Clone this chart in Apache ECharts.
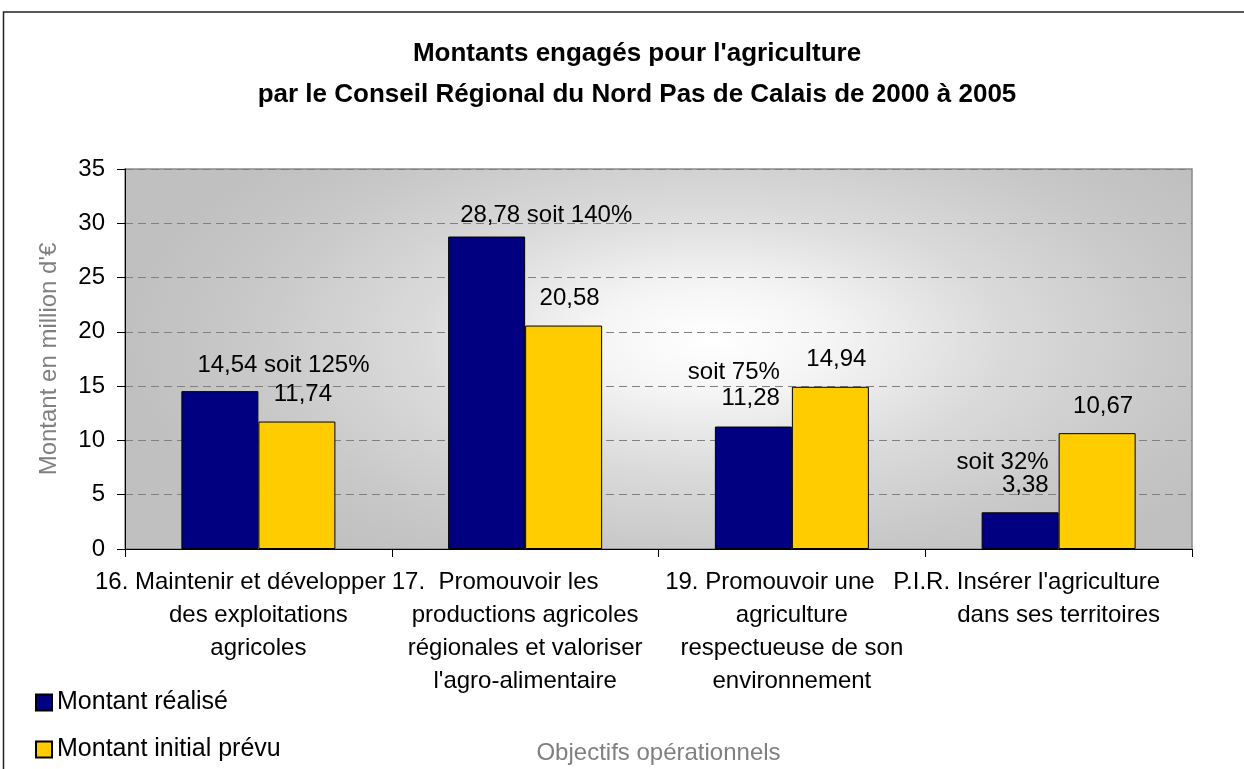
<!DOCTYPE html>
<html>
<head>
<meta charset="utf-8">
<script src="https://cdn.jsdelivr.net/npm/echarts@6.0.0/dist/echarts.min.js"></script>
<style>
  html, body { margin: 0; padding: 0; background: #fff; }
  #chart { width: 1244px; height: 769px; }
</style>
</head>
<body>
<div id="chart"></div>
<script>
// données
const categories = [
  '16. Maintenir et développer\ndes exploitations\nagricoles',
  '17.  Promouvoir les\nproductions agricoles\nrégionales et valoriser\nl\'agro-alimentaire',
  '19. Promouvoir une\nagriculture\nrespectueuse de son\nenvironnement',
  'P.I.R. Insérer l\'agriculture\ndans ses territoires'
]
const realise = [14.54, 28.78, 11.28, 3.38]
const prevu = [11.74, 20.58, 14.94, 10.67]
const taux = ['soit 125%', 'soit 140%', 'soit 75%', 'soit 32%']
const yTicks = [0, 5, 10, 15, 20, 25, 30, 35]

const FONT = 'Liberation Sans, Arial, sans-serif'
const fmt = v => v.toFixed(2).replace('.', ',')

// placement des étiquettes "soit x%" (comme dans l'original)
const blueLabelStyle = [
  { position: [16, -26], align: 'left', verticalAlign: 'middle', twoLines: false },
  { position: [12, -21], align: 'left', verticalAlign: 'middle', twoLines: false },
  { position: [65, -41], align: 'right', verticalAlign: 'middle', twoLines: true, lineHeight: 26 },
  { position: [67, -38], align: 'right', verticalAlign: 'middle', twoLines: true, lineHeight: 23 }
]
// décalage vers la gauche de la première ligne des libellés
const firstLineShift = [36, 60, 44, 64]

const chart = echarts.init(document.getElementById('chart'))

const option = {
  animation: false,
  title: {
    text: 'Montants engagés pour l\'agriculture\npar le Conseil Régional du Nord Pas de Calais de 2000 à 2005',
    left: 632,
    top: 28,
    textAlign: 'center',
    textStyle: {
      fontFamily: FONT,
      fontSize: 26,
      fontWeight: 'bold',
      color: '#000',
      lineHeight: 41
    }
  },
  legend: {
    orient: 'vertical',
    left: 35,
    top: 690,
    height: 79,
    padding: 0,
    itemWidth: 16,
    itemHeight: 16,
    itemGap: 22,
    icon: 'rect',
    textStyle: { fontFamily: FONT, fontSize: 25, color: '#000' },
    data: ['Montant réalisé', 'Montant initial prévu']
  },
  graphic: [
    {
      // fond dégradé de la zone de tracé
      type: 'rect',
      x: 125,
      y: 169,
      scaleX: 2.2,
      z: -10,
      silent: true,
      shape: { x: 0, y: 0, width: 1067 / 2.2, height: 380 },
      style: {
        fill: new echarts.graphic.RadialGradient(0.55, 0.45, 0.7, [
          { offset: 0, color: '#ffffff' },
          { offset: 0.2, color: '#f5f5f5' },
          { offset: 0.5, color: '#dadada' },
          { offset: 0.8, color: '#c8c8c8' },
          { offset: 1, color: '#c0c0c0' }
        ])
      }
    },
    {
      // cadre extérieur
      type: 'rect',
      z: 100,
      silent: true,
      shape: { x: 3.5, y: 12, width: 1300, height: 800 },
      style: { fill: null, stroke: '#222', lineWidth: 1.5 }
    }
  ],
  grid: {
    left: 125,
    right: 52,
    top: 169,
    bottom: 220,
    show: true,
    backgroundColor: 'transparent',
    borderColor: '#8a8a8a',
    borderWidth: 1.5
  },
  xAxis: {
    type: 'category',
    data: categories,
    name: 'Objectifs opérationnels',
    nameLocation: 'middle',
    nameGap: 192,
    nameTextStyle: { fontFamily: FONT, fontSize: 24, color: '#808080' },
    axisLine: { lineStyle: { color: '#000', width: 1 } },
    axisTick: { show: true, length: 8, interval: 0, lineStyle: { color: '#000' } },
    axisLabel: {
      interval: 0,
      margin: 17,
      fontFamily: FONT,
      fontSize: 24,
      lineHeight: 33,
      color: '#000',
      formatter: (val, idx) => {
        const lines = val.split('\n')
        lines[0] = '{s' + idx + '|' + lines[0] + '}'
        return lines.join('\n')
      },
      rich: {
        s0: { padding: [0, firstLineShift[0], 0, 0], fontSize: 24, lineHeight: 33 },
        s1: { padding: [0, firstLineShift[1], 0, 0], fontSize: 24, lineHeight: 33 },
        s2: { padding: [0, firstLineShift[2], 0, 0], fontSize: 24, lineHeight: 33 },
        s3: { padding: [0, firstLineShift[3], 0, 0], fontSize: 24, lineHeight: 33 }
      }
    }
  },
  yAxis: {
    type: 'value',
    min: yTicks[0],
    max: yTicks[yTicks.length - 1],
    interval: 5,
    name: 'Montant en million d\'€',
    nameLocation: 'middle',
    nameGap: 64,
    nameRotate: 90,
    nameTextStyle: { fontFamily: FONT, fontSize: 24, color: '#808080' },
    axisLine: { show: true, lineStyle: { color: '#000', width: 1 } },
    axisTick: { show: true, length: 8, lineStyle: { color: '#000' } },
    axisLabel: { margin: 20, fontFamily: FONT, fontSize: 24, color: '#000' },
    splitLine: { show: true, lineStyle: { color: '#808080', type: [8, 5], width: 1 } }
  },
  series: [
    {
      name: 'Montant réalisé',
      type: 'bar',
      barWidth: 77,
      barGap: '0%',
      itemStyle: { color: '#000080', borderColor: '#000', borderWidth: 1 },
      data: realise.map((v, i) => {
        const s = blueLabelStyle[i]
        return {
          value: v,
          label: {
            show: true,
            position: s.position,
            align: s.align,
            verticalAlign: s.verticalAlign,
            lineHeight: s.lineHeight || 24,
            fontFamily: FONT,
            fontSize: 24,
            color: '#000',
            formatter: s.twoLines ? taux[i] + '\n' + fmt(v) : fmt(v) + ' ' + taux[i]
          }
        }
      })
    },
    {
      name: 'Montant initial prévu',
      type: 'bar',
      barWidth: 77,
      barGap: '0%',
      itemStyle: { color: '#FFCC00', borderColor: '#000', borderWidth: 1 },
      label: {
        show: true,
        position: 'top',
        distance: 15,
        offset: [6, 0],
        fontFamily: FONT,
        fontSize: 24,
        color: '#000',
        formatter: p => fmt(p.value)
      },
      data: prevu
    }
  ]
}

chart.setOption(option)
</script>
</body>
</html>
